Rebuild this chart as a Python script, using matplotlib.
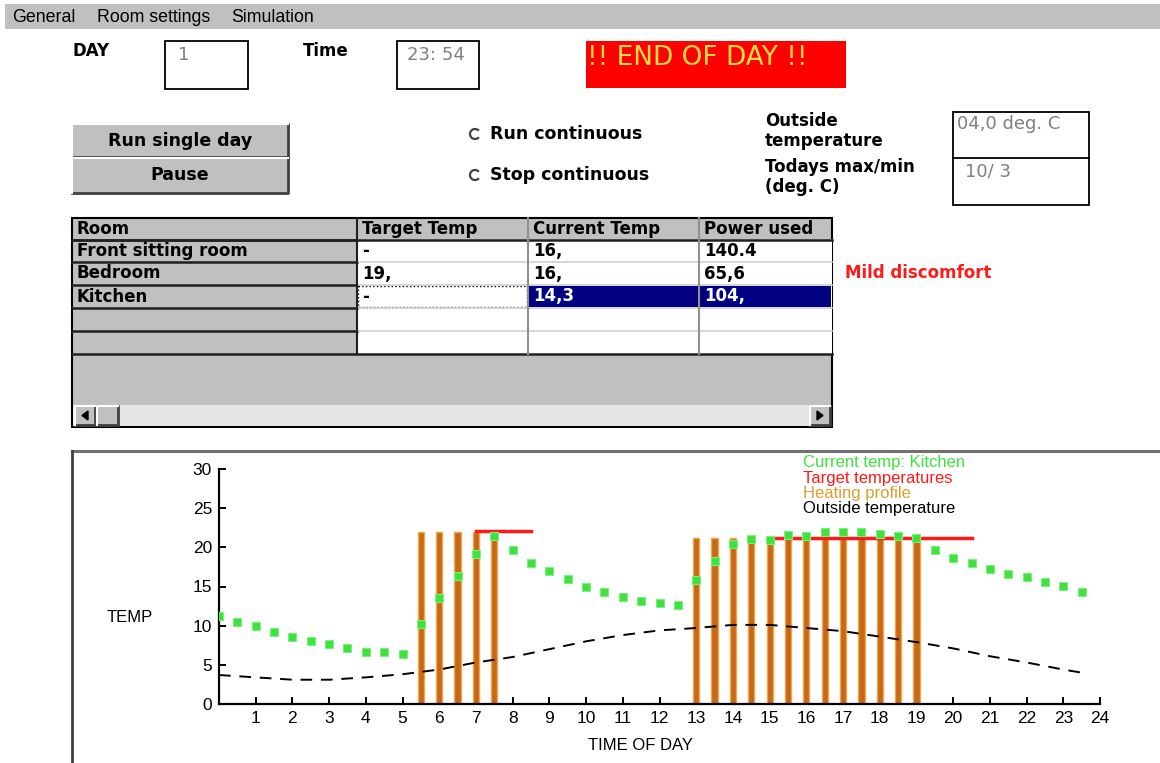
"""
plot.py -- heating simulator screen: controls, room table and kitchen temperature chart.
"""
import matplotlib
matplotlib.use("Agg")
import matplotlib.pyplot as plt
from matplotlib.patches import Rectangle, Polygon, Arc

# ---- data -------------------------------------------------------------
menu_items = ["General", "Room settings", "Simulation"]
day, clock = "1", "23: 54"
outside_now, max_min = "04,0 deg. C", "10/ 3"

table_cols = ["Room", "Target Temp", "Current Temp", "Power used"]
rooms = ["Front sitting room", "Bedroom", "Kitchen", "", ""]
target = ["-", "19,", "-", "", ""]
current = ["16,", "16,", "14,3", "", ""]
power = ["140.4", "65,6", "104,", "", ""]

# kitchen temperature, every half hour from 0:00
kitchen_t = [0, 0.5, 1, 1.5, 2, 2.5, 3, 3.5, 4, 4.5, 5, 5.5, 6, 6.5, 7, 7.5,
             8, 8.5, 9, 9.5, 10, 10.5, 11, 11.5, 12, 12.5, 13, 13.5, 14, 14.5,
             15, 15.5, 16, 16.5, 17, 17.5, 18, 18.5, 19, 19.5, 20, 20.5, 21,
             21.5, 22, 22.5, 23, 23.5]
kitchen_temp = [11.2, 10.5, 9.9, 9.2, 8.6, 8.1, 7.7, 7.1, 6.7, 6.6, 6.4, 10.2,
                13.5, 16.4, 19.2, 21.4, 19.6, 18.0, 17.0, 15.9, 15.0, 14.3,
                13.7, 13.2, 12.9, 12.6, 15.8, 18.3, 20.4, 21.1, 20.9, 21.6,
                21.4, 22.0, 21.9, 21.9, 21.7, 21.4, 21.2, 19.7, 18.7, 18.0,
                17.2, 16.6, 16.2, 15.6, 15.1, 14.3]

# heating on (half-hour slots) and its plotted level
heat_t = [5.5, 6, 6.5, 7, 7.5,
          13, 13.5, 14, 14.5, 15, 15.5, 16, 16.5, 17, 17.5, 18, 18.5, 19]
heat_level = [22, 22, 22, 22, 22,
              21.2, 21.2, 21.2, 21.2, 21.2, 21.2, 21.2, 21.2, 21.2, 21.2,
              21.2, 21.2, 21.2]

# target temperature periods: (start, end, temp)
target_periods = [(7, 8.5, 22.1), (15, 20.5, 21.2)]

outside_t = [0, 1, 2, 3, 4, 5, 6, 7, 8, 9, 10, 11, 12, 13, 14, 15, 16, 17,
             18, 19, 20, 21, 22, 23, 23.5]
outside_temp = [3.7, 3.4, 3.1, 3.1, 3.4, 3.8, 4.4, 5.3, 6.0, 7.0, 8.0, 8.8,
                9.4, 9.7, 10.1, 10.1, 9.7, 9.3, 8.6, 7.9, 7.1, 6.1, 5.3, 4.4,
                4.0]

legend_labels = ["Current temp: Kitchen", "Target temperatures",
                 "Heating profile", "Outside temperature"]
legend_colors = ["#3ee23e", "#ff1a1a", "#d9a030", "black"]

# ---- style ------------------------------------------------------------
GREY = "#c0c0c0"
DV = "DejaVu Sans"
plt.rcParams.update({"font.family": ["Liberation Sans", "DejaVu Sans"],
                     "font.size": 12})
B = dict(family=DV, fontweight="bold", va="center")

W, H = 1160, 763
fig = plt.figure(figsize=(W / 100, H / 100), dpi=100)
ui = fig.add_axes([0, 0, 1, 1])
ui.set_xlim(0, W); ui.set_ylim(H, 0); ui.axis("off")


def rect(x0, y0, x1, y1, fc="white", ec="none", lw=1, **kw):
    ui.add_patch(Rectangle((x0, y0), x1 - x0, y1 - y0, fc=fc, ec=ec, lw=lw, **kw))


def bevel(x0, y0, x1, y1):
    rect(x0, y0, x1, y1, fc=GREY)
    ui.plot([x0, x1, x1], [y1, y1, y0], color="#404040", lw=2)
    ui.plot([x0, x0, x1], [y1, y0, y0], color="white", lw=1.5)


# menu bar
rect(5, 4, W, 29, fc=GREY)
for x, s in zip([12, 97, 231], menu_items):
    ui.text(x, 17, s, va="center", fontsize=12.8)

# day / time
ui.text(72, 51, "DAY", fontsize=12, **B)
rect(165, 41, 248, 89, ec="black", lw=1.3)
ui.text(178, 55, day, va="center", color="#808080", fontsize=13, family=DV)
ui.text(303, 51, "Time", fontsize=12, **B)
rect(397, 41, 479, 89, ec="black", lw=1.3)
ui.text(407, 55, clock, va="center", color="#808080", fontsize=13, family=DV)

# end of day banner
rect(586, 41, 846, 88, fc="#ff0000")
ui.text(587, 58, "!! END OF DAY !!", va="center", color="#ffe040",
        fontsize=19, family=DV)

# buttons
bevel(72, 124, 288, 157)
ui.text(180, 141, "Run single day", ha="center", fontsize=12.5, **B)
bevel(72, 158, 288, 193)
ui.text(180, 175, "Pause", ha="center", fontsize=12.5, **B)

# radio buttons
for y, s in [(134, "Run continuous"), (175, "Stop continuous")]:
    ui.add_patch(Arc((475, y), 10, 10, theta1=40, theta2=320,
                     color="#404040", lw=1.6))
    ui.text(490, y, s, fontsize=12.5, **B)

# outside temperature panel
ui.text(765, 131, "Outside\ntemperature", fontsize=12, linespacing=1.15, **B)
ui.text(765, 177, "Todays max/min\n(deg. C)", fontsize=12, linespacing=1.15, **B)
rect(953, 112, 1089, 205, ec="black", lw=1.3)
ui.plot([953, 1089], [158, 158], color="black", lw=1.3)
ui.text(957, 124, outside_now, va="center", color="#808080", fontsize=13, family=DV)
ui.text(965, 171, max_min, va="center", color="#808080", fontsize=13, family=DV)

# room table
col_x = [72, 357, 528, 699, 832]
row_y = [218, 240, 262, 285, 308, 331, 354]
rect(72, 218, 832, 427, fc=GREY, ec="black", lw=1.5)
rect(357, 240, 832, 354, fc="white")
for i, s in enumerate(table_cols):
    ui.text(col_x[i] + 5, 229, s, fontsize=12, **B)
for y in row_y[1:-1]:
    ui.plot([72, 357], [y, y], color="#202020", lw=1.8)
    ui.plot([357, 832], [y, y], color="#d0d0d0", lw=1.2)
ui.plot([72, 832], [240, 240], color="#202020", lw=1.8)
ui.plot([72, 832], [354, 354], color="#202020", lw=1.8)
for x in col_x[1:-1]:
    ui.plot([x, x], [218, 354], color="#202020" if x == 357 else "#909090", lw=1.5)
# selected kitchen cells
rect(529, 286, 831, 307, fc="#000080")
ui.plot([699, 699], [286, 307], color="#909090", lw=1.2)
rect(358, 286, 527, 307, fc="none", ec="black", lw=1, ls=":")
for r in range(len(rooms)):
    yc = (row_y[r + 1] + row_y[r + 2]) / 2
    sel = rooms[r] == "Kitchen"
    ui.text(77, yc, rooms[r], fontsize=12, **B)
    ui.text(362, yc, target[r], fontsize=12, **B)
    for x, v in [(533, current[r]), (704, power[r])]:
        ui.text(x, yc, v, fontsize=12, color="white" if sel else "black", **B)
ui.text(845, 273, "Mild discomfort", color="#ff1a1a", fontsize=12, **B)

# horizontal scroll bar
rect(73, 405, 831, 426, fc="#e4e4e4")
bevel(75, 406, 95, 425)
bevel(97, 406, 118, 425)
bevel(810, 406, 830, 425)
ui.add_patch(Polygon([[88, 411], [88, 420], [82, 415.5]], color="black"))
ui.add_patch(Polygon([[817, 411], [817, 420], [823, 415.5]], color="black"))

# chart frame
ui.plot([72, W], [451, 451], color="#707070", lw=2.2)
ui.plot([72, 72], [451, H], color="#404040", lw=2)

# ---- chart ------------------------------------------------------------
ax = fig.add_axes([219 / W, 1 - 704 / H, (1100 - 219) / W, (704 - 469) / H])
ax.set_facecolor("none")
ax.set_xlim(0, 24); ax.set_ylim(0, 30)

ax.bar(heat_t, heat_level, width=0.17, color="#c66818", edgecolor="#f0a848",
       linewidth=1, zorder=2)
for x0, x1, t in target_periods:
    ax.plot([x0, x1], [t, t], color="#ff1a1a", lw=2.5, zorder=3)
ax.plot(outside_t, outside_temp, color="black", lw=1.4, dashes=(6, 4.5), zorder=4)
ax.plot(kitchen_t, kitchen_temp, ls="none", marker="s", ms=5.5,
        color="#3ee23e", mec="#7cf07c", mew=0.8, zorder=5)

for s in ["top", "right"]:
    ax.spines[s].set_visible(False)
for s in ["left", "bottom"]:
    ax.spines[s].set_linewidth(1.6)
ax.set_xticks(range(1, 25))
ax.set_yticks(range(0, 31, 5))
ax.tick_params(direction="in", length=5, width=1.4, labelsize=12.5, pad=5)

ui.text(130, 618, "TEMP", ha="center", va="center", fontsize=12)
ui.text(640, 745, "TIME OF DAY", ha="center", va="center", fontsize=12)
for i, (s, c) in enumerate(zip(legend_labels, legend_colors)):
    ui.text(803, 463 + 15.3 * i, s, va="center", color=c, fontsize=12)

fig.savefig("out.png", dpi=100)
plt.close(fig)
